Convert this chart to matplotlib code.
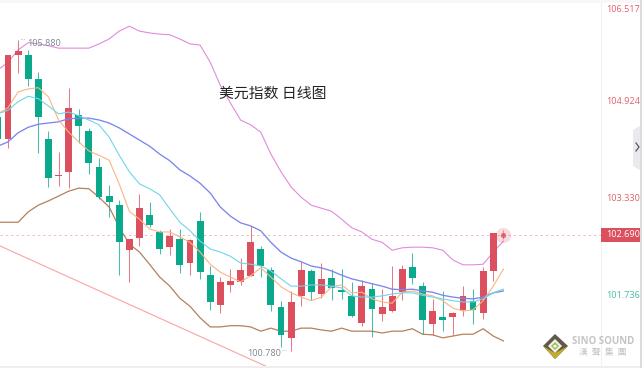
"""
US dollar index daily candles with bollinger band and moving averages
"""
import matplotlib
matplotlib.use("Agg")
import matplotlib.pyplot as plt
from matplotlib.patches import Polygon, Rectangle

plt.rcParams['font.family'] = ['Noto Sans CJK SC', 'DejaVu Sans']

# candles, first one is cut by the left edge
opens = [104.63,104.27,105.65,105.65,105.25,104.27,103.66,103.73,104.66,104.40,103.81,103.33,103.18,102.44,102.64,103.02,102.74,102.49,102.62,102.23,
	102.92,102.03,101.54,101.87,101.92,102.02,102.46,102.12,101.51,101.00,101.69,102.10,101.72,101.98,101.79,101.69,101.24,101.80,101.39,101.44,
	101.75,102.16,101.85,101.23,101.34,101.34,101.46,101.61,101.41,102.10]
closes = [104.27,105.65,105.71,105.25,104.63,103.63,103.68,104.78,104.48,103.87,103.31,103.23,102.57,102.62,103.13,102.85,102.46,102.67,102.20,102.61,
	102.08,101.59,101.92,101.93,102.12,102.57,102.18,101.54,101.05,101.59,102.12,101.75,101.97,101.82,101.75,101.36,101.85,101.47,101.51,101.69,
	102.13,101.98,101.29,101.44,101.29,101.41,101.69,101.46,102.10,102.72]
highs = [104.74,105.65,105.89,105.73,105.37,104.40,104.05,105.11,104.76,104.45,103.95,103.51,103.27,102.62,103.36,103.23,102.77,102.79,102.79,102.62,
	103.07,102.18,102.00,102.13,102.31,102.84,102.51,102.16,101.61,101.77,102.25,102.13,102.23,102.13,102.13,101.92,101.95,101.90,101.80,102.18,
	102.20,102.39,101.92,101.64,101.77,101.43,101.85,101.80,102.16,102.72]
lows = [104.15,104.12,105.35,105.14,104.04,103.48,103.49,103.46,104.20,103.69,103.28,102.99,102.03,101.92,102.51,102.82,102.38,102.36,102.07,102.03,
	101.97,101.46,101.41,101.75,101.87,102.02,102.00,101.44,100.85,100.78,101.52,101.62,101.65,101.62,101.64,101.34,101.20,101.01,101.28,101.43,
	101.62,101.89,101.06,101.05,101.11,101.05,101.36,101.23,101.31,101.93]

# indicator lines, one point more than the candles
boll_upper = [105.40,105.53,105.73,105.85,105.83,105.80,105.76,105.76,105.76,105.76,105.83,105.91,106.04,106.12,106.04,106.01,105.99,105.98,105.91,105.83,
	105.81,105.53,105.15,104.86,104.58,104.50,104.38,104.02,103.73,103.48,103.31,103.18,103.13,103.08,102.95,102.81,102.74,102.62,102.57,102.44,
	102.48,102.49,102.49,102.48,102.44,102.28,102.20,102.20,102.21,102.41,102.59]
boll_mid = [104.15,104.22,104.37,104.46,104.51,104.53,104.55,104.60,104.61,104.61,104.58,104.53,104.45,104.35,104.25,104.15,104.02,103.91,103.76,103.66,
	103.54,103.38,103.15,103.00,102.89,102.84,102.76,102.57,102.41,102.31,102.25,102.18,102.15,102.10,102.03,101.97,101.93,101.89,101.85,101.80,
	101.79,101.80,101.77,101.75,101.70,101.67,101.65,101.64,101.67,101.74,101.77]
boll_lower = [102.90,102.90,102.90,103.07,103.18,103.25,103.33,103.41,103.46,103.45,103.31,103.15,102.82,102.54,102.41,102.21,102.00,101.85,101.65,101.52,
	101.33,101.18,101.18,101.20,101.20,101.18,101.11,101.16,101.11,101.11,101.16,101.16,101.13,101.11,101.16,101.11,101.11,101.11,101.08,101.11,
	101.11,101.15,101.06,101.05,101.00,101.03,101.06,101.06,101.15,101.03,100.95]
ma_fast = [104.68,104.78,105.04,105.09,105.11,104.96,104.58,104.38,104.22,104.07,104.00,103.92,103.53,103.08,102.95,102.79,102.74,102.74,102.66,102.57,
	102.41,102.21,102.08,102.00,101.92,102.02,102.15,102.00,101.84,101.74,101.67,101.61,101.67,101.84,101.87,101.74,101.75,101.64,101.59,101.57,
	101.75,101.77,101.72,101.69,101.61,101.49,101.44,101.46,101.61,101.85,102.13]
ma_slow = [104.68,104.74,104.88,104.97,104.93,104.81,104.68,104.71,104.65,104.58,104.50,104.30,104.00,103.73,103.53,103.45,103.35,103.12,102.90,102.76,
	102.59,102.46,102.41,102.34,102.23,102.21,102.18,102.10,101.97,101.85,101.85,101.87,101.87,101.85,101.82,101.69,101.67,101.67,101.69,101.72,
	101.74,101.74,101.70,101.67,101.64,101.61,101.59,101.59,101.64,101.74,101.80]

# hand drawn trend line, as bar index and price
trend_x = [-0.79, 25.7]
trend_y = [102.51, 100.52]

last_price = 102.690
max_label = "105.880"
min_label = "100.780"
axis_prices = [106.517, 104.924, 103.330, 101.736]
axis_labels = ["106.517", "104.924", "103.330", "101.736"]
title = "美元指数 日线图"

RED = "#dc4f5e"
GREEN = "#0aa98c"

W = 642
H = 368
fig = plt.figure(figsize=(W/100, H/100), dpi=100)
ax = fig.add_axes([0, 0, 601/W, 1])
ax.set_xlim(-0.791, -0.791 + 601/10.11)
ax.set_ylim(100.505, 106.551)
ax.axis("off")

xs = [i-1 for i in range(len(boll_upper))]
cxs = xs[:len(opens)]

ax.plot(xs, boll_upper, color="#e08bdc", lw=0.8, zorder=2)
ax.plot(xs, boll_mid, color="#7b86ee", lw=0.95, zorder=4)
ax.plot(xs, boll_lower, color="#b5805c", lw=0.9, zorder=2)
ax.plot(xs, ma_fast, color="#f9b583", lw=0.8, zorder=4)
ax.plot(xs, ma_slow, color="#6fd6e8", lw=0.8, zorder=4)
ax.plot(trend_x, trend_y, color="#fba8a8", lw=0.85, zorder=1)

for x, o, c, h, l in zip(cxs, opens, closes, highs, lows):
	col = RED if c >= o else GREEN
	ax.vlines(x, l, h, color=col, lw=0.75, alpha=0.75, zorder=3)
	ax.bar(x, abs(c-o), bottom=min(o, c), width=0.68, color=col, lw=0, zorder=3)

# last price line and pulse marker
ax.axhline(last_price, color="#f5b8c0", lw=0.7, ls=(0, (2.5, 3)), zorder=1)
ax.scatter([xs[-1]], [last_price], s=120, color=RED, alpha=0.2, lw=0, zorder=5)
ax.scatter([xs[-1]], [last_price], s=14, color=RED, alpha=0.8, lw=0, zorder=6)
ax.vlines(xs[-1], last_price-0.07, last_price+0.08, color=RED, lw=0.6, alpha=0.7, zorder=6)

# max and min labels
ax.annotate(max_label, (cxs[2], max(highs)), xytext=(27/W, 1-43/H), textcoords="figure fraction",
	fontsize=6.6, color="#7f8790", va="center", family=["Open Sans"])
ax.annotate(min_label, (cxs[29], min(lows)), xytext=(247/W, 1-354/H), textcoords="figure fraction",
	fontsize=6.6, color="#7f8790", va="center", family=["Open Sans"])
fig.text(19/W, 1-40/H, "\u00b7\u00b7\u00b7", fontsize=5, color="#b0b4b8", va="center", family=["DejaVu Sans"])
fig.text(281/W, 1-351/H, "\u00b7\u00b7\u00b7", fontsize=5, color="#b0b4b8", va="center", family=["DejaVu Sans"])

fig.text(273/W, 1-94/H, title, fontsize=10.7, color="#222222", ha="center", va="center")

# price axis on the right
lax = fig.add_axes([0, 0, 1, 1], facecolor="none")
lax.set_xlim(0, W)
lax.set_ylim(H, 0)
lax.axis("off")
lax.add_patch(Rectangle((0, 0), W, 2.5, color="#f7f7f8", lw=0))
lax.add_patch(Rectangle((0, 365.5), W, 2.5, color="#eeeeef", lw=0))
lax.plot([601, 601], [2.5, 365.5], color="#f1f1f4", lw=0.8)
lax.add_patch(Rectangle((640, 0), 2, H, color="#dcdcdf", lw=0))
lax.add_patch(Polygon([[633, 130], [640, 126], [640, 170], [633, 166]], color="#e9e9ee", lw=0))
lax.plot([636, 639, 636], [143, 147, 151], color="#555a66", lw=0.9)

for p, s in zip(axis_prices, axis_labels):
	y = (106.551 - p)/0.01643 + 2
	col = RED if p > last_price else "#2fb89f"
	if y < 10:
		y = 9.5
	lax.text(640, y, s, fontsize=6.6, color=col, ha="right", va="center", family=["Open Sans"], alpha=0.9, zorder=7)
lp = (106.551 - last_price)/0.01643
lax.add_patch(Rectangle((601, lp-7), 39, 14.5, color=RED, lw=0, zorder=5))
lax.text(640, lp, "%.3f" % last_price, fontsize=6.6, color="white", ha="right", va="center", family=["Open Sans"], zorder=6)

# watermark logo
lax.add_patch(Polygon([[555, 334], [568, 346], [555, 359], [543, 346]], color="#5f5a4c", lw=0, zorder=7))
lax.add_patch(Polygon([[543, 346], [555, 359], [568, 346], [555, 353]], color="#c3ab2c", lw=0, zorder=7))
lax.add_patch(Polygon([[555, 339], [562, 346], [555, 353], [548, 346]], color="#f3f1e6", lw=0, zorder=8))
lax.add_patch(Polygon([[555, 342], [559, 346], [555, 350], [551, 346]], color="#9cbf5a", lw=0, zorder=9))
lax.add_patch(Polygon([[555, 344.5], [557, 346], [555, 348], [553, 346]], color="#ffffff", lw=0, zorder=10))
lax.text(603, 341, "SINO SOUND", fontsize=7, fontweight="bold", color="#c4c4c8", ha="center", va="center", family=["Open Sans"], zorder=7)
lax.text(603, 352, "漢  聲  集  團", fontsize=6.4, color="#c4c4c8", ha="center", va="center", zorder=7)

plt.savefig("out.png", dpi=100)
